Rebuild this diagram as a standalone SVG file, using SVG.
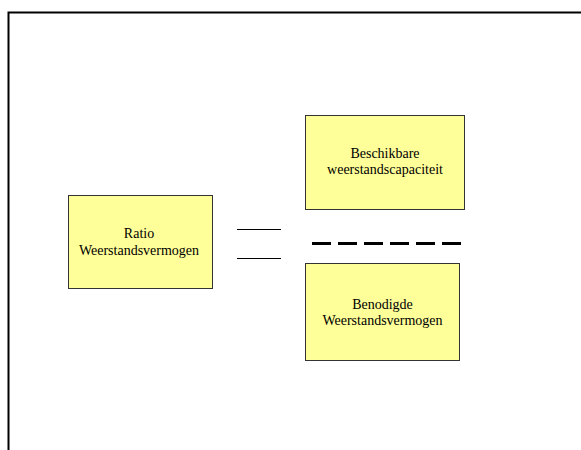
<svg xmlns="http://www.w3.org/2000/svg" width="581" height="450" viewBox="0 0 581 450">
<style>
.box{fill:#FFFF99;stroke:#333333;stroke-width:1}
.t{font-family:"Liberation Serif","Times New Roman",serif;font-size:14px;fill:#000;text-anchor:middle}
.ln{stroke:#000;stroke-width:1}
</style>
<rect x="0" y="0" width="581" height="450" fill="#fff"/>
<path d="M8.5 450 V12.5 H581" fill="none" stroke="#000" stroke-width="2"/>
<g id="ratio">
<rect class="box" x="68.5" y="195.5" width="144" height="93"/>
<text class="t" x="139" y="238">Ratio</text>
<text class="t" x="139" y="254.5">Weerstandsvermogen</text>
</g>
<g id="beschikbaar">
<rect class="box" x="305.5" y="115.5" width="159" height="94"/>
<text class="t" x="385" y="158.3">Beschikbare</text>
<text class="t" x="385" y="174.3">weerstandscapaciteit</text>
</g>
<g id="benodigd">
<rect class="box" x="305.5" y="263.5" width="154" height="97"/>
<text class="t" x="382.5" y="309">Benodigde</text>
<text class="t" x="382.5" y="325">Weerstandsvermogen</text>
</g>
<g id="connectors">
<line class="ln" x1="237" y1="229.5" x2="281" y2="229.5"/>
<line class="ln" x1="237" y1="258.5" x2="281" y2="258.5"/>
<line x1="312" y1="243.5" x2="463" y2="243.5" stroke="#000" stroke-width="3" stroke-dasharray="19 7"/>
</g>
</svg>
